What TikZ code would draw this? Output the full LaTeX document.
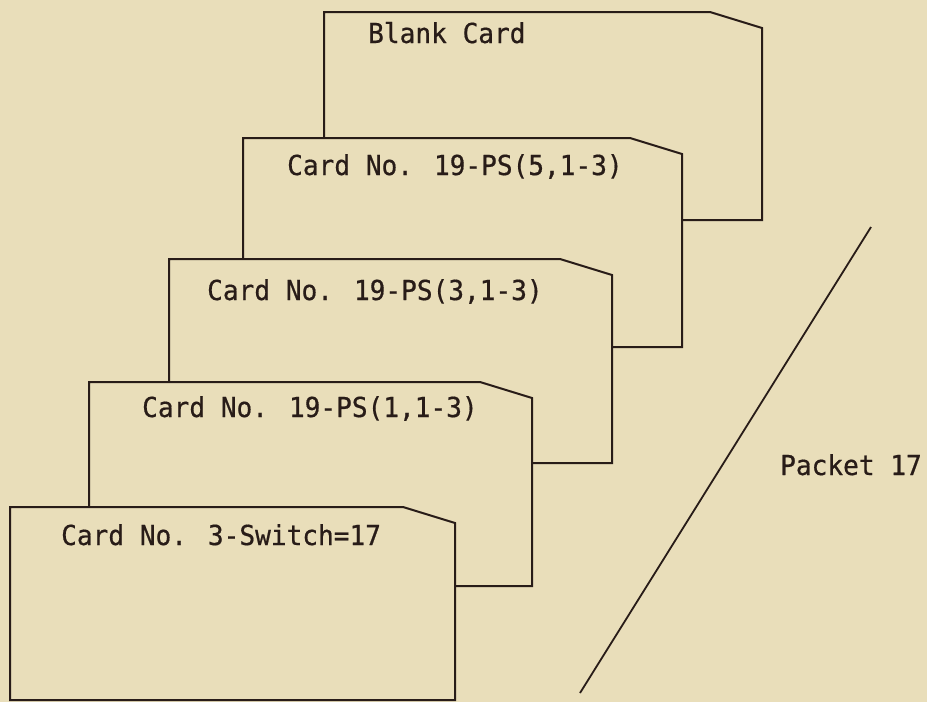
\documentclass[tikz,border=0pt]{standalone}
\usepackage{fontspec}
\newfontfamily\cardfont[FakeStretch=0.95,FakeBold=0.6]{DejaVu Sans Mono}

\definecolor{paper}{RGB}{233,222,186}
\definecolor{ink}{RGB}{40,28,24}

\tikzset{
  card/.style={draw=ink, fill=paper, line width=2pt, line join=miter},
  cardtext/.style={anchor=base west, inner sep=0pt, text=ink,
    font=\cardfont\fontsize{27.5}{32}\selectfont},
}

% \card{left}{top}{right}{bottom}: a card with its top right corner cut off
\newcommand{\card}[4]{%
  \path[card] (#1,#2) -- ({#3-52},#2) -- (#3,{#2+16}) -- (#3,#4) -- (#1,#4) -- cycle;}

\begin{document}
\begin{tikzpicture}[x=1pt,y=-1pt]
  \fill[paper] (0,0) rectangle (927,702);
  \useasboundingbox (0,0) rectangle (927,702);

  \begin{scope}
    % back to front, each card hides the one behind it
    \card{324}{12}{762}{220}
    \card{243}{138}{682}{347}
    \card{169}{259}{612}{463}
    \card{89}{382}{532}{586}
    \card{10}{507}{455}{700}

    \node[cardtext] (blank)  at (368,43)  {Blank Card};
    \node[cardtext] (ps5)    at (287,175) {Card No. 19-PS(5,1-3)};
    \node[cardtext] (ps3)    at (207,300) {Card No. 19-PS(3,1-3)};
    \node[cardtext] (ps1)    at (142,417) {Card No. 19-PS(1,1-3)};
    \node[cardtext] (switch) at (61,545)  {Card No. 3-Switch=17};
  \end{scope}

  % packet marker
  \draw[ink, line width=1.8pt] (871,227) -- (580,693);
  \node[cardtext] (packet) at (780,475) {Packet 17};
\end{tikzpicture}
\end{document}
